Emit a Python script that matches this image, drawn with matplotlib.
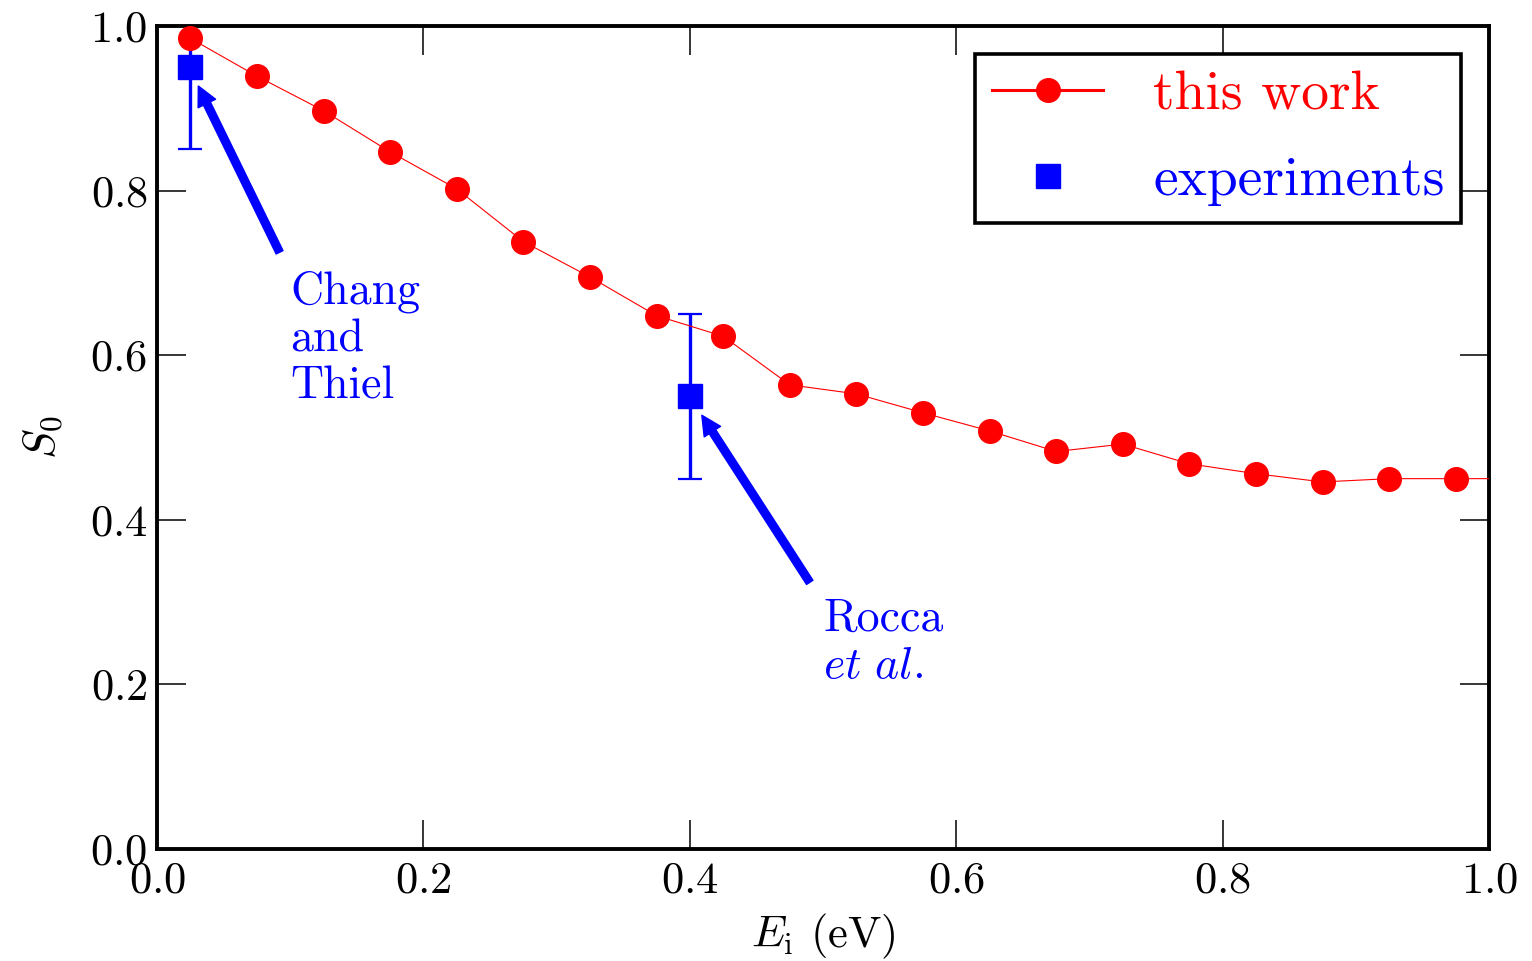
import matplotlib
matplotlib.use("Agg")
import matplotlib.pyplot as plt
from matplotlib.lines import Line2D

plt.rcParams["font.family"] = "cmr10"
plt.rcParams["mathtext.fontset"] = "cm"
plt.rcParams["axes.unicode_minus"] = False
plt.rcParams["axes.formatter.use_mathtext"] = True

# Sticking probability from this work
energies = [0.025, 0.075, 0.125, 0.175, 0.225, 0.275, 0.325, 0.375, 0.425, 0.475,
            0.525, 0.575, 0.625, 0.675, 0.725, 0.775, 0.825, 0.875, 0.925, 0.975, 1.025]
s0 = [0.985, 0.939, 0.897, 0.847, 0.802, 0.738, 0.695, 0.648, 0.623, 0.564,
      0.553, 0.530, 0.508, 0.483, 0.492, 0.468, 0.456, 0.446, 0.450, 0.450, 0.450]

# Experimental values
exp_energies = [0.025, 0.4]
exp_s0 = [0.95, 0.55]
exp_err = [0.1, 0.1]

fig = plt.figure(figsize=(15.32, 9.61), dpi=100)
ax = fig.add_axes([0.1025, 0.1165, 0.8695, 0.8565])

ax.errorbar(exp_energies, exp_s0, yerr=exp_err, fmt="s", color="blue",
            ms=17, elinewidth=2.4, capsize=8.5, capthick=1.6, zorder=2)
ax.plot(energies, s0, "o-", color="red", lw=0.8, ms=17, zorder=3)

# annotations
ax.annotate("", xy=(0.031, 0.927), xytext=(0.092, 0.725),
            arrowprops=dict(facecolor="blue", edgecolor="blue", width=5.5,
                            headwidth=14, headlength=14, shrink=0))
ax.text(0.1, 0.703, "Chang\nand\nThiel", color="blue", fontsize=33,
        va="top", ha="left", linespacing=1.17)
ax.annotate("", xy=(0.409, 0.527), xytext=(0.490, 0.324),
            arrowprops=dict(facecolor="blue", edgecolor="blue", width=5.5,
                            headwidth=14, headlength=14, shrink=0))
ax.text(0.5, 0.305, "Rocca\n$et\\ al.$", color="blue", fontsize=33,
        va="top", ha="left", linespacing=1.17)

ax.set_xlim(0, 1)
ax.set_ylim(0, 1)
ax.set_xticks([0.0, 0.2, 0.4, 0.6, 0.8, 1.0])
ax.set_yticks([0.0, 0.2, 0.4, 0.6, 0.8, 1.0])
ax.tick_params(direction="in", length=21, width=1.1, labelsize=32,
               top=True, right=True)
ax.tick_params(axis="x", pad=9)
ax.tick_params(axis="y", pad=7)
for sp in ax.spines.values():
    sp.set_linewidth(2.8)

ax.set_xlabel(r"$E_{\rm i}$ (eV)", fontsize=32, labelpad=7)
ax.set_ylabel(r"$S_0$", fontsize=32, labelpad=18)

handles = [Line2D([], [], color="red", marker="o", lw=2.2, ms=17),
           Line2D([], [], color="blue", marker="s", ls="none", ms=17)]
leg = ax.legend(handles, ["this work", "experiments"], loc="upper right",
                fontsize=40, numpoints=1, fancybox=False, handlelength=2.0,
                handletextpad=0.9, borderaxespad=0.5, labelspacing=0.65,
                borderpad=0.3)
leg.get_frame().set_edgecolor("black")
leg.get_frame().set_linewidth(2.6)
leg.get_frame().set_alpha(1)
leg.get_texts()[0].set_color("red")
leg.get_texts()[1].set_color("blue")

fig.savefig("out.png", dpi=100)
